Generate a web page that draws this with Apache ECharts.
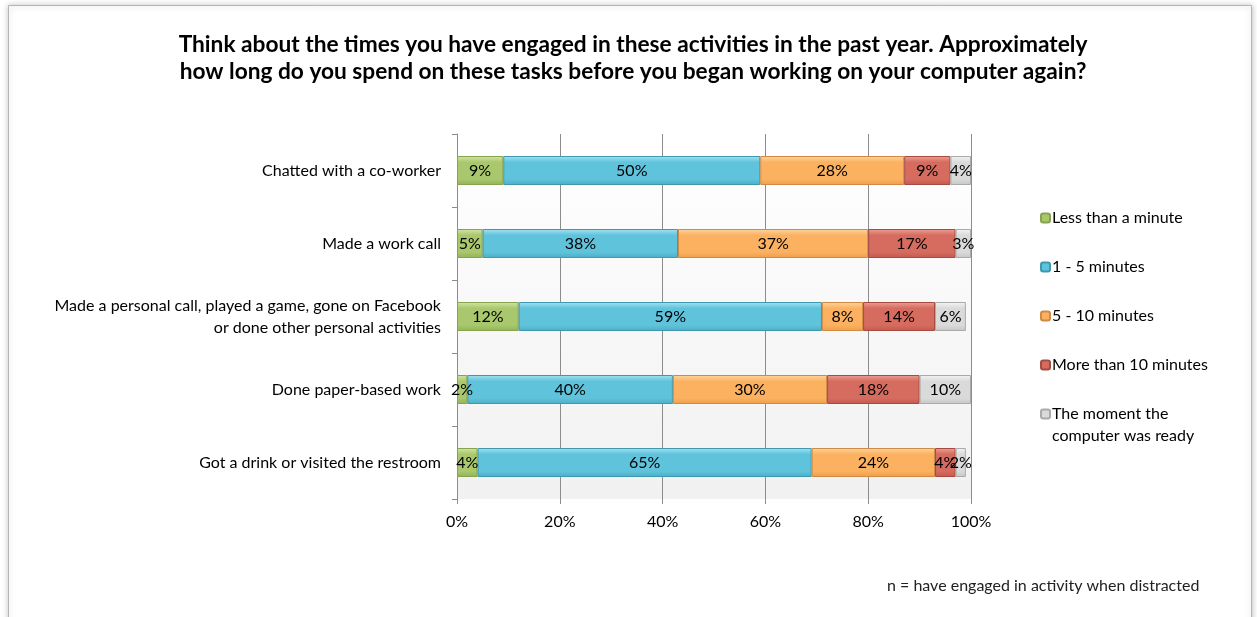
<!DOCTYPE html>
<html>
<head>
<meta charset="utf-8">
<script src="https://cdn.jsdelivr.net/npm/echarts@6/dist/echarts.min.js"></script>
<style>
  html, body { margin: 0; padding: 0; background: #ffffff; }
  #chart { width: 1257px; height: 617px; }
</style>
</head>
<body>
<div id="chart"></div>
<script>
// Activities, top to bottom
const categories = [
  'Chatted with a co-worker',
  'Made a work call',
  'Made a personal call, played a game, gone on Facebook\nor done other personal activities',
  'Done paper-based work',
  'Got a drink or visited the restroom'
];

// Share of respondents (%) per time bucket, same order as categories
const lessThanMinute = [9, 5, 12, 2, 4];
const oneToFive = [50, 38, 59, 40, 65];
const fiveToTen = [28, 37, 8, 30, 24];
const moreThanTen = [9, 17, 14, 18, 4];
const momentReady = [4, 3, 6, 10, 2];

const seriesNames = [
  'Less than a minute',
  '1 - 5 minutes',
  '5 - 10 minutes',
  'More than 10 minutes',
  'The moment the computer was ready'
];

const xTicks = [0, 20, 40, 60, 80, 100];

const FONT = 'Lato, "Open Sans", sans-serif';

// bevel-like fills: light top edge, base body, darker bottom
const palette = [
  { top: '#d3e6a8', base: '#a9c76c', bottom: '#92b258', border: '#88a34e' },
  { top: '#a6e3f2', base: '#5ec3db', bottom: '#4daec6', border: '#3f98ae' },
  { top: '#fdd6a0', base: '#fbb160', bottom: '#f09d47', border: '#cf8a45' },
  { top: '#eea095', base: '#d66b5f', bottom: '#c35a4f', border: '#a64b42' },
  { top: '#f4f4f4', base: '#dadada', bottom: '#c6c6c6', border: '#aaaaaa' }
];

function fill(p) {
  return {
    type: 'linear', x: 0, y: 0, x2: 0, y2: 1,
    colorStops: [
      { offset: 0, color: p.top },
      { offset: 0.22, color: p.base },
      { offset: 0.8, color: p.base },
      { offset: 1, color: p.bottom }
    ]
  };
}

const seriesValues = [lessThanMinute, oneToFive, fiveToTen, moreThanTen, momentReady];

const series = seriesValues.map((vals, i) => ({
  name: seriesNames[i],
  type: 'bar',
  stack: 'total',
  barWidth: 29,
  data: vals,
  itemStyle: {
    color: fill(palette[i]),
    borderColor: palette[i].border,
    borderWidth: 1
  },
  label: {
    show: true,
    position: 'inside',
    formatter: '{c}%',
    color: '#000',
    fontFamily: FONT,
    fontSize: 16
  },
  labelLayout: { hideOverlap: false },
  emphasis: { disabled: true }
}));

const chart = echarts.init(document.getElementById('chart'), null, { renderer: 'canvas' });

chart.setOption({
  animation: false,
  backgroundColor: '#ffffff',
  title: {
    text: 'Think about the times you have engaged in these activities in the past year. Approximately\nhow long do you spend on these tasks before you began working on your computer again?',
    left: 628,
    textAlign: 'center',
    top: 26,
    textStyle: {
      fontFamily: FONT,
      fontSize: 22.7,
      fontWeight: 'bold',
      color: '#000',
      lineHeight: 27
    }
  },
  legend: [
    {
      data: seriesNames.slice(0, 4),
      orient: 'vertical',
      left: 1040,
      top: 209,
      padding: 0,
      itemWidth: 9,
      itemHeight: 9,
      itemGap: 31,
      selectedMode: false,
      textStyle: { fontFamily: FONT, fontSize: 16, color: '#000', lineHeight: 18, padding: [0, 0, 0, -3] }
    },
    {
      data: seriesNames.slice(4),
      orient: 'vertical',
      left: 1040,
      top: 381,
      padding: 0,
      itemWidth: 9,
      itemHeight: 9,
      selectedMode: false,
      formatter: () => '\nThe moment the\ncomputer was ready',
      textStyle: { fontFamily: FONT, fontSize: 16, color: '#000', lineHeight: 22, padding: [0, 0, 0, -3] }
    }
  ],
  grid: {
    left: 457,
    right: 286,
    top: 134,
    bottom: 118,
    show: true,
    borderWidth: 0,
    backgroundColor: {
      type: 'linear', x: 0, y: 0, x2: 0, y2: 1,
      colorStops: [
        { offset: 0, color: '#ffffff' },
        { offset: 1, color: '#f1f1f1' }
      ]
    }
  },
  xAxis: {
    type: 'value',
    min: xTicks[0],
    max: xTicks[xTicks.length - 1],
    interval: xTicks[1] - xTicks[0],
    axisLine: { show: false },
    axisTick: { show: true, length: 5, lineStyle: { color: '#8c8c8c' } },
    splitLine: { show: true, lineStyle: { color: '#8c8c8c', width: 1 } },
    axisLabel: {
      formatter: '{value}%',
      margin: 15,
      fontFamily: FONT,
      fontSize: 16,
      color: '#000'
    }
  },
  yAxis: {
    type: 'category',
    data: categories,
    inverse: true,
    axisLine: { show: true, lineStyle: { color: '#8c8c8c' } },
    axisTick: { show: true, length: 5, lineStyle: { color: '#8c8c8c' } },
    axisLabel: {
      margin: 16,
      fontFamily: FONT,
      fontSize: 16,
      color: '#000',
      lineHeight: 22,
      align: 'right'
    }
  },
  graphic: [
    {
      type: 'rect',
      z: -10,
      silent: true,
      shape: { x: 8.5, y: 5.5, width: 1243, height: 640 },
      style: {
        fill: '#ffffff',
        stroke: '#b5b5b5',
        lineWidth: 1,
        shadowBlur: 6,
        shadowColor: 'rgba(0,0,0,0.25)'
      }
    },
    {
      type: 'text',
      left: 887,
      top: 578,
      style: {
        text: 'n = have engaged in activity when distracted',
        font: '16px ' + FONT,
        fill: '#222'
      }
    }
  ],
  series: series
});
</script>
</body>
</html>
